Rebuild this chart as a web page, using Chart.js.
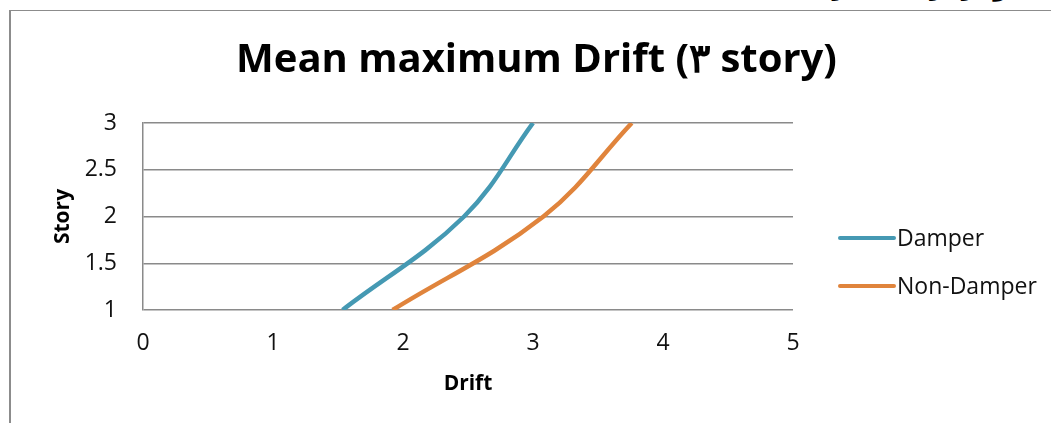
<!DOCTYPE html>
<html>
<head>
<meta charset="utf-8">
<script src="https://cdn.jsdelivr.net/npm/chart.js@4.4.1/dist/chart.umd.min.js"></script>
<style>
  html, body { margin: 0; padding: 0; background: #fff; overflow: hidden; }
  #wrap { position: relative; width: 1051px; height: 423px; overflow: hidden; }
  #frame {
    position: absolute; left: 9px; top: 10px; right: -5px; bottom: -5px;
    border-left: 2px solid #8c8c8c; border-top: 1px solid #8c8c8c;
    pointer-events: none;
  }
  #caption {
    position: absolute; right: 21px; top: -24px;
    font: bold 22px "DejaVu Sans", sans-serif; color: #000;
    direction: rtl; white-space: nowrap;
  }
  canvas { position: absolute; left: 0; top: 0; }
</style>
</head>
<body>
<div id="wrap">
  <div id="caption">نمودار دریفت سازه ۳ طبقه</div>
  <canvas id="c" width="1051" height="423"></canvas>
  <div id="frame"></div>
</div>
<script>
// Story levels and the mean maximum drift at each level
const stories = [1, 2, 3];
const damperDrift = [1.535, 2.47, 3.0];
const nonDamperDrift = [1.92, 3.08, 3.76];

const seriesNames = ['Damper', 'Non-Damper'];
const seriesColors = ['#4599B3', '#E0843C'];

const xTicks = [0, 1, 2, 3, 4, 5];
const yTicks = [1, 1.5, 2, 2.5, 3];

const FONT = '"Open Sans", sans-serif';

function toPoints(xs) {
  return xs.map((x, i) => ({ x: x, y: stories[i] }));
}

// Legend drawn in the right-hand margin with line swatches
const sideLegend = {
  id: 'sideLegend',
  afterDraw(chart) {
    const ctx = chart.ctx;
    const ys = [238, 286];
    ctx.save();
    chart.data.datasets.forEach((ds, i) => {
      const y = ys[i];
      ctx.strokeStyle = ds.borderColor;
      ctx.lineWidth = 4;
      ctx.lineCap = 'round';
      ctx.beginPath();
      ctx.moveTo(840, y);
      ctx.lineTo(894, y);
      ctx.stroke();
      ctx.fillStyle = '#111';
      ctx.font = '23px ' + FONT;
      ctx.textBaseline = 'middle';
      ctx.textAlign = 'left';
      ctx.fillText(ds.label, 897, y + 1);
    });
    ctx.restore();
  }
};

new Chart(document.getElementById('c'), {
  type: 'scatter',
  data: {
    datasets: [
      {
        label: seriesNames[0],
        data: toPoints(damperDrift),
        borderColor: seriesColors[0],
        backgroundColor: seriesColors[0],
        showLine: true, borderWidth: 4.5, pointRadius: 0, tension: 0.38
      },
      {
        label: seriesNames[1],
        data: toPoints(nonDamperDrift),
        borderColor: seriesColors[1],
        backgroundColor: seriesColors[1],
        showLine: true, borderWidth: 4.5, pointRadius: 0, tension: 0.38
      }
    ]
  },
  options: {
    responsive: false,
    animation: false,
    layout: { padding: { left: 22, right: 0, top: 0, bottom: 0 } },
    plugins: {
      legend: { display: false },
      tooltip: { enabled: false },
      title: {
        display: true,
        text: 'Mean maximum Drift (۳ story)',
        color: '#000',
        font: { family: FONT, size: 40, weight: 'bold', lineHeight: 1.2 },
        padding: { top: 37, bottom: 38 }
      }
    },
    scales: {
      x: {
        type: 'linear', min: 0, max: 5,
        afterBuildTicks(s) { s.ticks = xTicks.map(v => ({ value: v })); },
        afterFit(s) { s.height = 113; },
        grid: { display: false, drawTicks: false },
        border: { display: false },
        ticks: { color: '#111', font: { family: FONT, size: 23 }, padding: 20 },
        title: {
          display: true, text: 'Drift', color: '#000',
          font: { family: FONT, size: 21, weight: 'bold', lineHeight: 1.2 },
          padding: { top: 0, bottom: 26 }
        }
      },
      y: {
        type: 'linear', min: 1, max: 3,
        afterBuildTicks(s) { s.ticks = yTicks.map(v => ({ value: v })); },
        afterFit(s) { s.width = 121; },
        grid: { color: '#8a8a8a', lineWidth: 1.5, drawTicks: false },
        border: { display: true, color: '#8a8a8a', width: 1.5 },
        ticks: {
          color: '#111', font: { family: FONT, size: 23 }, padding: 26,
          callback: v => String(v)
        },
        title: {
          display: true, text: 'Story', color: '#000',
          font: { family: FONT, size: 21, weight: 'bold', lineHeight: 1.2 },
          padding: { top: 28, bottom: 0 }
        }
      },
      // empty right-hand margin that holds the legend
      legendSpace: {
        type: 'linear', position: 'right', display: true,
        afterFit(s) { s.width = 258; },
        grid: { display: false, drawTicks: false },
        border: { display: false },
        ticks: { display: false }
      }
    }
  },
  plugins: [sideLegend]
});
</script>
</body>
</html>
